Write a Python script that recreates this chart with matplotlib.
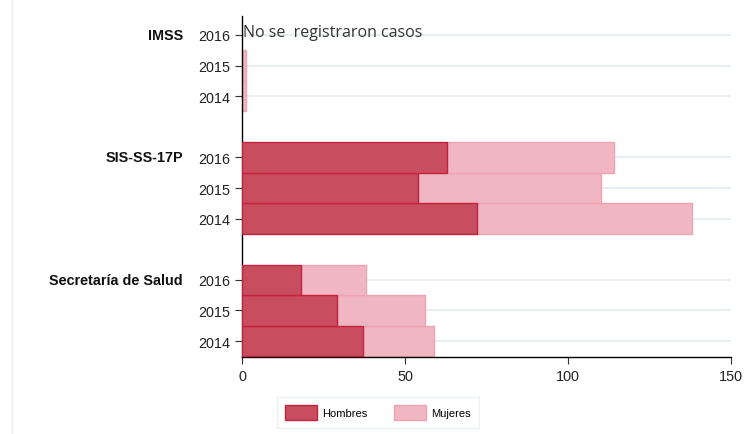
import matplotlib.pyplot as plt
from matplotlib.transforms import blended_transform_factory
from matplotlib.patches import Patch

# Datos por institución (orden: 2014, 2015, 2016)
instituciones = ["Secretaría de Salud", "SIS-SS-17P", "IMSS"]
anios = ["2014", "2015", "2016"]
hombres = {
    "Secretaría de Salud": [37, 29, 18],
    "SIS-SS-17P": [72, 54, 63],
    "IMSS": [0, 0, 0],
}
mujeres = {
    "Secretaría de Salud": [22, 27, 20],
    "SIS-SS-17P": [66, 56, 51],
    "IMSS": [1.2, 1.2, 0],
}
x_ticks = [0, 50, 100, 150]

plt.rcParams['font.family'] = ['Liberation Sans', 'DejaVu Sans']

fig = plt.figure(figsize=(7.56, 4.35), dpi=100)
ax = fig.add_axes([0.3201, 0.177, 0.6468, 0.784])

color_h = '#c84d5f'
borde_h = '#c3243c'
color_m = '#f0b6c1'
borde_m = '#f0a3b3'

pos_y = []
etiquetas_y = []
tr = blended_transform_factory(fig.transFigure, ax.transData)
for g, inst in enumerate(instituciones):
    base = g * 4
    ys = [base + i for i in range(len(anios))]
    h = hombres[inst]
    m = mujeres[inst]
    for y, vh, vm in zip(ys, h, m):
        # sin borde cuando no hay casos
        if vh > 0:
            ax.barh(y, vh, height=1.0, color=color_h, edgecolor=borde_h, linewidth=1, zorder=3)
        if vm > 0:
            ax.barh(y, vm, left=vh, height=1.0, color=color_m, edgecolor=borde_m, linewidth=1, zorder=2)
    pos_y += ys
    etiquetas_y += anios
    # nombre de la institución a la altura de 2016
    ax.text(183 / 756, ys[-1], inst, transform=tr, ha='right', va='center',
            fontsize=10.4, fontweight='bold', color='#111111')

for y in pos_y:
    ax.axhline(y, color='#e8eef2', linewidth=1.5, zorder=1)

ax.text(0.3, 10.1, "No se  registraron casos", fontsize=11.5, color='#333333',
        family=['Open Sans', 'DejaVu Sans'], ha='left', va='center', zorder=4)

ax.set_xlim(0, 150)
ax.set_ylim(-0.52, 10.62)
ax.set_xticks(x_ticks)
ax.set_yticks(pos_y)
ax.set_yticklabels(etiquetas_y)
ax.tick_params(axis='both', labelsize=10.4, length=5, color='#333333', labelcolor='#222222')
for s in ['top', 'right']:
    ax.spines[s].set_visible(False)
for s in ['left', 'bottom']:
    ax.spines[s].set_color('black')
    ax.spines[s].set_linewidth(1)

# línea tenue a la izquierda
fig.add_artist(plt.Line2D([12 / 756, 12 / 756], [0, 1], color='#eeeeee', linewidth=1))

handles = [Patch(facecolor=color_h, edgecolor=borde_h, label='Hombres'),
           Patch(facecolor=color_m, edgecolor=borde_m, label='Mujeres')]
leg = fig.legend(handles=handles, loc='center', bbox_to_anchor=(378 / 756, 1 - 413.5 / 435),
                 ncol=2, fontsize=8, frameon=True, fancybox=False, handlelength=2.9,
                 handleheight=1.6, handletextpad=0.45, columnspacing=2.4, borderpad=0.75)
leg.get_frame().set_edgecolor('#e6ecee')
leg.get_frame().set_linewidth(1)

fig.savefig('out.png', dpi=100)
